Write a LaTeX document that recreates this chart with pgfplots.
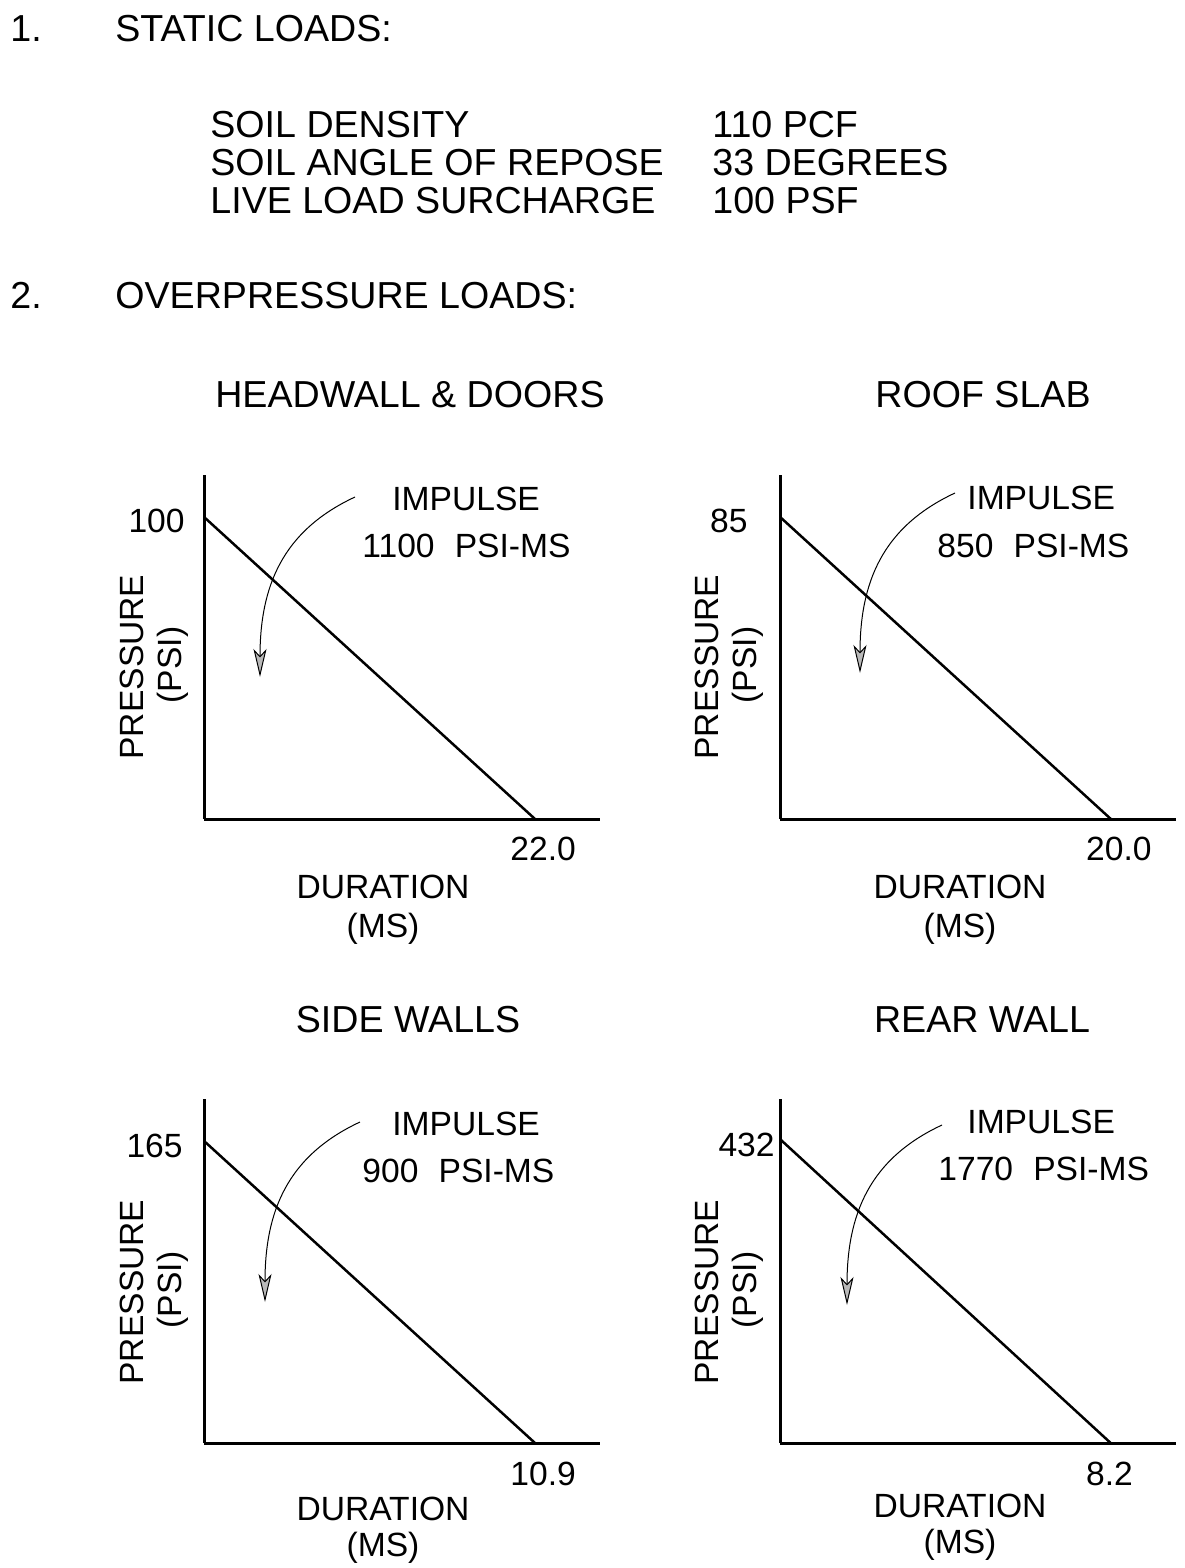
\documentclass[border=0pt]{standalone}
\usepackage{fontspec}
\setmainfont{Liberation Sans}
\usepackage{pgfplots}
\pgfplotsset{compat=1.18}
\usetikzlibrary{arrows.meta}

\newcommand\hdr{\fontsize{18.8pt}{22pt}\selectfont}
\newcommand\lbl{\fontsize{16.8pt}{20pt}\selectfont}

\pgfplotsset{
  blast/.style={
    scale only axis, width=198pt, height=172pt,
    anchor=south west,
    xmin=0, ymin=0,
    axis x line=bottom, axis y line=left,
    axis line style={-, line width=1.5pt},
    every outer x axis line/.append style={-},
    every outer y axis line/.append style={-},
    major tick length=0pt,
    ticklabel style={font=\lbl, inner sep=0pt},
    xticklabel style={anchor=base west, xshift=-12.5pt},
    yticklabel style={anchor=base east},
    clip=false,
  },
}

% curved leader from the impulse note into the triangle
\newcommand\imparrow[4]{%
  \draw[line width=0.5pt, -{Stealth[length=14pt,width=6.5pt,inset=3.5pt,fill=gray!55]}]
    (#1,#2) .. controls +(-73,34) and +(0,-90) .. (#3,#4);}

\begin{document}
\begin{tikzpicture}[x=0.5pt, y=-0.5pt, every node/.style={inner sep=0pt}]
\path[use as bounding box] (0,0) rectangle (1184,1568);

% header
\node[anchor=base west, font=\hdr] at (10,42) {1.};
\node[anchor=base west, font=\hdr] at (115,42) {STATIC LOADS:};
\node[anchor=base west, font=\hdr] at (210,137) {SOIL DENSITY};
\node[anchor=base west, font=\hdr] at (210,175) {SOIL ANGLE OF REPOSE};
\node[anchor=base west, font=\hdr] at (210,213) {LIVE LOAD SURCHARGE};
\node[anchor=base west, font=\hdr] at (712,137) {110 PCF};
\node[anchor=base west, font=\hdr] at (712,175) {33 DEGREES};
\node[anchor=base west, font=\hdr] at (712,213) {100 PSF};
\node[anchor=base west, font=\hdr] at (10,308) {2.};
\node[anchor=base west, font=\hdr] at (115,308) {OVERPRESSURE LOADS:};

\node[anchor=base, font=\hdr] at (410,407) {HEADWALL \& DOORS};
\node[anchor=base, font=\hdr] at (983,407) {ROOF SLAB};
\node[anchor=base, font=\hdr] at (408,1032) {SIDE WALLS};
\node[anchor=base, font=\hdr] at (982,1032) {REAR WALL};

\coordinate (o1) at (204,819);
\coordinate (o2) at (780,819);
\coordinate (o3) at (204,1443);
\coordinate (o4) at (780,1443);

% headwall & doors
\begin{axis}[blast, at={(o1)}, xmax=26.32, ymax=113.9,
  xtick={22}, xticklabels={22.0}, ytick={100}, yticklabels={100},
  xticklabel style={yshift=-20.5pt}, yticklabel style={xshift=-9.5pt, yshift=-8pt}]
\addplot[black, line width=1.25pt] coordinates {(0,100) (22,0)};
\end{axis}

% roof slab
\begin{axis}[blast, at={(o2)}, xmax=23.94, ymax=96.8,
  xtick={20}, xticklabels={20.0}, ytick={85}, yticklabels={85},
  xticklabel style={yshift=-20.5pt}, yticklabel style={xshift=-16pt, yshift=-8pt}]
\addplot[black, line width=1.25pt] coordinates {(0,85) (20,0)};
\end{axis}

% side walls
\begin{axis}[blast, at={(o3)}, xmax=13.04, ymax=187.9,
  xtick={10.9}, xticklabels={10.9}, ytick={165}, yticklabels={165},
  xticklabel style={yshift=-21pt}, yticklabel style={xshift=-10.5pt, yshift=-8.5pt}]
\addplot[black, line width=1.25pt] coordinates {(0,165) (10.9,0)};
\end{axis}

% rear wall
\begin{axis}[blast, at={(o4)}, xmax=9.82, ymax=489,
  xtick={8.2}, xticklabels={8.2}, ytick={432}, yticklabels={432},
  xticklabel style={yshift=-21pt}, yticklabel style={xshift=-2.5pt, yshift=-8.5pt}]
\addplot[black, line width=1.25pt] coordinates {(0,432) (8.2,0)};
\end{axis}

% axis titles
\foreach \cx/\bx/\by in {383/143/667, 960/718/667, 383/143/1292, 960/718/1292}{
  \node[anchor=base, font=\lbl, rotate=90] at (\bx,\by) {PRESSURE};
  \node[anchor=base, font=\lbl, rotate=90] at (\bx+38,\by-2) {(PSI)};
}
\node[anchor=base, font=\lbl] at (383,898) {DURATION};
\node[anchor=base, font=\lbl] at (383,937) {(MS)};
\node[anchor=base, font=\lbl] at (960,898) {DURATION};
\node[anchor=base, font=\lbl] at (960,937) {(MS)};
\node[anchor=base, font=\lbl] at (383,1520) {DURATION};
\node[anchor=base, font=\lbl] at (383,1556) {(MS)};
\node[anchor=base, font=\lbl] at (960,1517) {DURATION};
\node[anchor=base, font=\lbl] at (960,1553) {(MS)};

% impulse notes
\node[anchor=base west, font=\lbl] at (392,510) {IMPULSE};
\node[anchor=base west, font=\lbl] at (362,557) {1100\hspace{0.6em}PSI-MS};
\node[anchor=base west, font=\lbl] at (967,509) {IMPULSE};
\node[anchor=base west, font=\lbl] at (937,557) {850\hspace{0.6em}PSI-MS};
\node[anchor=base west, font=\lbl] at (392,1135) {IMPULSE};
\node[anchor=base west, font=\lbl] at (362,1182) {900\hspace{0.6em}PSI-MS};
\node[anchor=base west, font=\lbl] at (967,1133) {IMPULSE};
\node[anchor=base west, font=\lbl] at (938,1180) {1770\hspace{0.6em}PSI-MS};

\imparrow{355}{497}{260}{677}
\imparrow{955}{493}{860}{673}
\imparrow{360}{1122}{265}{1302}
\imparrow{942}{1125}{847}{1305}
\end{tikzpicture}
\end{document}
